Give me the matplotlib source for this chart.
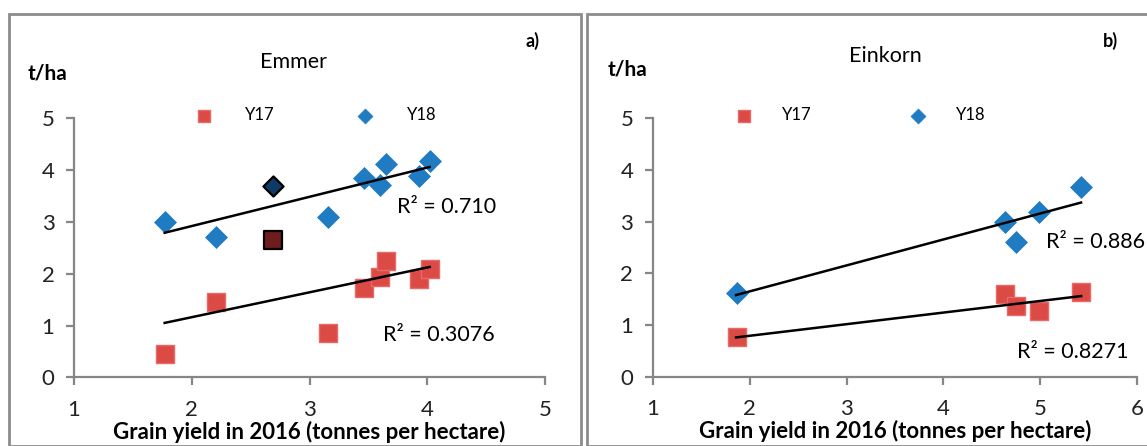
import matplotlib
matplotlib.use("Agg")
import matplotlib.pyplot as plt
from matplotlib.patches import Rectangle

plt.rcParams['font.family'] = ['Lato', 'DejaVu Sans']

# Emmer (panel a)
emmer_x = [1.77, 2.21, 3.16, 3.46, 3.60, 3.65, 3.93, 4.02]
emmer_y17 = [0.45, 1.46, 0.85, 1.73, 1.94, 2.25, 1.89, 2.10]
emmer_y18 = [3.00, 2.71, 3.09, 3.85, 3.72, 4.12, 3.88, 4.17]
emmer_hl_x = [2.69]
emmer_hl_y17 = [2.66]
emmer_hl_y18 = [3.69]
emmer_trend_x = [1.77, 4.02]
emmer_trend_y17 = [1.05, 2.13]
emmer_trend_y18 = [2.79, 4.06]
emmer_r2 = ["R² = 0.3076", "R² = 0.710"]

# Einkorn (panel b)
einkorn_x = [1.87, 4.64, 4.75, 4.99, 5.42]
einkorn_y17 = [0.76, 1.60, 1.36, 1.28, 1.63]
einkorn_y18 = [1.62, 3.00, 2.61, 3.19, 3.67]
einkorn_trend_x = [1.86, 5.42]
einkorn_trend_y17 = [0.76, 1.56]
einkorn_trend_y18 = [1.58, 3.37]
einkorn_r2 = ["R² = 0.8271", "R² = 0.886"]

xlabel = "Grain yield in 2016 (tonnes per hectare)"

RED = '#dc4a46'
RED_EDGE = '#e86a66'
BLUE = '#1f7bc2'
GRAY = '#868686'

W, H = 1147, 446
fig = plt.figure(figsize=(W / 100, H / 100), dpi=100)


def px(x, y):
    return x / W, 1 - y / H


# panel frames
fig.add_artist(Rectangle(px(9, 446), (581 - 9) / W, (446 - 14) / H,
                         transform=fig.transFigure, fill=False,
                         edgecolor='#8c8c8c', lw=2))
fig.add_artist(Rectangle(px(587, 446), (1160 - 587) / W, (446 - 14) / H,
                         transform=fig.transFigure, fill=False,
                         edgecolor='#8c8c8c', lw=2))


def setup(ax, xmax):
    ax.set_xlim(1, xmax)
    ax.set_ylim(0, 5)
    ax.set_xticks(range(1, xmax + 1))
    ax.set_yticks(range(0, 6))
    for s in ['top', 'right']:
        ax.spines[s].set_visible(False)
    for s in ['left', 'bottom']:
        ax.spines[s].set_color(GRAY)
        ax.spines[s].set_linewidth(1.6)
    ax.tick_params(axis='both', direction='out', length=6, width=1.6,
                   color=GRAY, labelsize=16, labelcolor='#222222')
    ax.tick_params(axis='x', pad=10)
    ax.tick_params(axis='y', pad=8)
    ax.set_xlabel(xlabel, fontsize=16, fontweight='bold', labelpad=1)


def draw(ax, x, y17, y18, tx, t17, t18):
    s17 = ax.scatter(x, y17, marker='s', s=155, color=RED,
                     edgecolors=RED_EDGE, linewidths=1, zorder=3, label='Y17')
    s18 = ax.scatter(x, y18, marker='D', s=125, color=BLUE,
                     edgecolors=BLUE, linewidths=0.5, zorder=3, label='Y18')
    ax.plot(tx, t18, color='black', lw=1.8, zorder=4)
    ax.plot(tx, t17, color='black', lw=1.8, zorder=4)
    return s17, s18


# panel a
ax1 = fig.add_axes([74 / W, 1 - 377.3 / H, (545 - 74) / W, (377.3 - 118.3) / H])
setup(ax1, 5)
h17, h18 = draw(ax1, emmer_x, emmer_y17, emmer_y18,
                emmer_trend_x, emmer_trend_y17, emmer_trend_y18)
ax1.scatter(emmer_hl_x, emmer_hl_y18, marker='D', s=105, color='#0f3a66',
            edgecolors='black', linewidths=1.6, zorder=5)
ax1.scatter(emmer_hl_x, emmer_hl_y17, marker='s', s=155, color='#6e1c1c',
            edgecolors='black', linewidths=1.6, zorder=5)
ax1.text(3.74, 3.29, emmer_r2[1], fontsize=15.5, va='center', ha='left')
ax1.text(3.62, 0.82, emmer_r2[0], fontsize=15.5, va='center', ha='left')
ax1.legend(handles=[h17, h18], loc='center left', bbox_to_anchor=(0.24, 1.013),
           ncol=2, frameon=False, fontsize=12, markerscale=0.68,
           columnspacing=4.4, handletextpad=1.5, borderpad=0, borderaxespad=0)

# panel b
ax2 = fig.add_axes([652.7 / W, 1 - 376.7 / H, (1137.3 - 652.7) / W, (376.7 - 118.3) / H])
setup(ax2, 6)
h17, h18 = draw(ax2, einkorn_x, einkorn_y17, einkorn_y18,
                einkorn_trend_x, einkorn_trend_y17, einkorn_trend_y18)
ax2.text(5.06, 2.60, einkorn_r2[1], fontsize=15.5, va='center', ha='left', clip_on=False)
ax2.text(4.76, 0.48, einkorn_r2[0], fontsize=15.5, va='center', ha='left')
ax2.legend(handles=[h17, h18], loc='center left', bbox_to_anchor=(0.153, 1.013),
           ncol=2, frameon=False, fontsize=12, markerscale=0.68,
           columnspacing=5.4, handletextpad=1.3, borderpad=0, borderaxespad=0)

# titles and labels
for (x, y), s, kw in [
    ((48, 74), "t/ha", dict(fontsize=15, fontweight='bold')),
    ((294, 62), "Emmer", dict(fontsize=15.5)),
    ((532, 41), "a)", dict(fontsize=13, fontweight='bold')),
    ((628, 70), "t/ha", dict(fontsize=15, fontweight='bold')),
    ((885, 56), "Einkorn", dict(fontsize=15.5)),
    ((1110, 41), "b)", dict(fontsize=13, fontweight='bold')),
]:
    fx, fy = px(x, y)
    fig.text(fx, fy, s, ha='center', va='center', **kw)

fig.savefig('out.png', dpi=100)
